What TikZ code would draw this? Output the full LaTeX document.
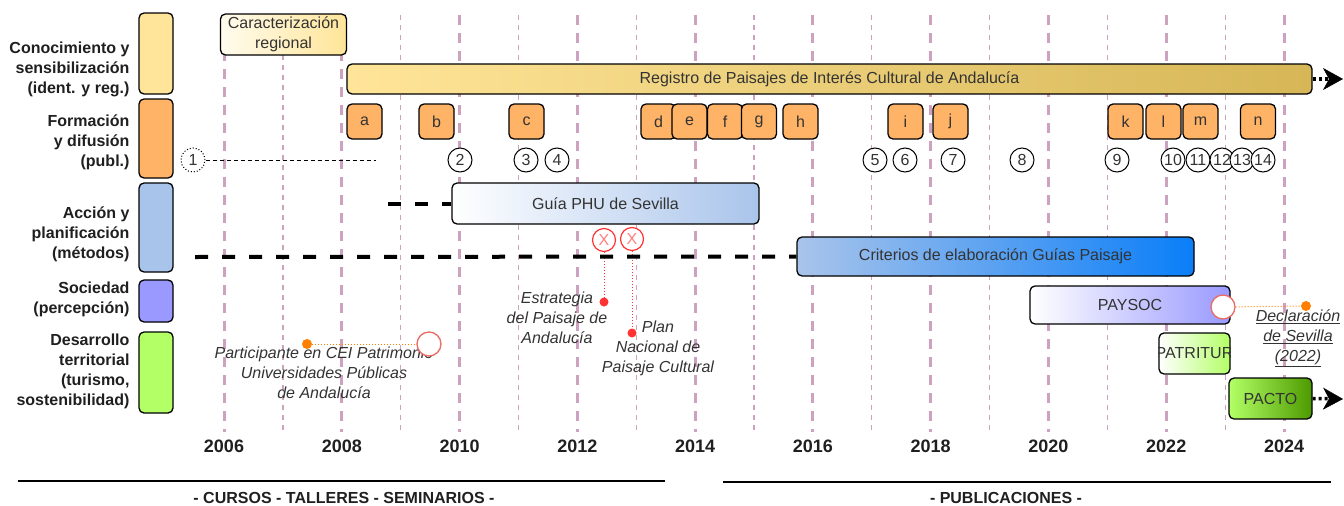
\documentclass[tikz,border=0pt]{standalone}
\usepackage{fontspec}
\setmainfont{Liberation Sans}
\usetikzlibrary{arrows.meta}
\definecolor{gridc}{HTML}{CDA2BE}
\definecolor{txt}{HTML}{333333}
\definecolor{ylw}{HTML}{FFE599}
\definecolor{ylwlight}{HTML}{FFFCEE}
\definecolor{gold}{HTML}{D6B656}
\definecolor{org}{HTML}{FFB366}
\definecolor{blu}{HTML}{A9C4EB}
\definecolor{blu2}{HTML}{0A7EF8}
\definecolor{pur}{HTML}{9999FF}
\definecolor{grn}{HTML}{B3FF66}
\definecolor{grn2}{HTML}{4D9900}
\definecolor{redc}{HTML}{FF3333}
\definecolor{redx}{HTML}{FF7F7F}
\definecolor{salmon}{HTML}{EA6B66}
\definecolor{orng}{HTML}{FF8000}
\tikzset{
 thickgrid/.style={gridc, line width=3pt, dash pattern=on 10pt off 8pt},
 thingrid/.style={gridc, line width=1.3pt, dash pattern=on 5pt off 5pt},
 catbox/.style={draw=black, line width=1.3pt, rounded corners=5pt, minimum width=34pt, inner sep=0pt},
 catlabel/.style={anchor=east, align=right, font=\fontsize{16}{20}\selectfont\bfseries, text=black!88},
 bar/.style={draw=black, line width=1.3pt, rounded corners=5pt, inner sep=0pt, text=txt, font=\fontsize{16}{20}\selectfont, align=center},
 letterbox/.style={bar, fill=org, minimum width=35pt, minimum height=35pt},
 numc/.style={circle, draw=black, line width=1pt, fill=white, minimum size=24pt, inner sep=0pt, text=txt, font=\fontsize{16}{16}\selectfont},
 note/.style={align=center, font=\fontsize{16}{20}\selectfont\itshape, text=txt},
 xcirc/.style={circle, draw=redc, line width=1.2pt, fill=white, minimum size=23pt, inner sep=0pt, text=redx, font=\fontsize{16}{16}\selectfont},
 ocirc/.style={circle, draw=salmon, line width=1.3pt, fill=white, minimum size=24pt, inner sep=0pt},
 rdot/.style={circle, fill=redc, minimum size=9pt, inner sep=0pt},
 odot/.style={circle, fill=orng, minimum size=10pt, inner sep=0pt},
 bigdash/.style={line width=4pt, dash pattern=on 13pt off 14pt},
 dotarrow/.style={line width=3.5pt, dash pattern=on 3pt off 3pt, -{Stealth[length=20pt, width=22pt, inset=6pt, line width=0.5pt]}},
 yearlbl/.style={font=\fontsize{18}{20}\selectfont\bfseries, text=black!88},
 seclbl/.style={font=\fontsize{16}{20}\selectfont\bfseries, text=black!88},
}
\begin{document}
\begin{tikzpicture}[x=1pt,y=-1pt]
\useasboundingbox (0,0) rectangle (1344,506);
% grid
\foreach \k in {0,...,9} \draw[thickgrid] ({224+117.78*\k},15) -- ({224+117.78*\k},432);
\foreach \k in {0,...,8} \draw[thingrid] ({282.9+117.78*\k},15) -- ({282.9+117.78*\k},432);
% category boxes
\node[catbox, fill=ylw, minimum height=81pt] (c1) at (156,53.5) {};
\node[catbox, fill=org, minimum height=79pt] (c2) at (156,138.5) {};
\node[catbox, fill=blu, minimum height=89pt] (c3) at (156,227.5) {};
\node[catbox, fill=pur, minimum height=42pt] (c4) at (156,301) {};
\node[catbox, fill=grn, minimum height=81pt] (c5) at (156,372.5) {};
\node[catlabel] (l1) at (133,69) {Conocimiento y\\sensibilización\\(ident. y reg.)};
\node[catlabel] (l2) at (133,142) {Formación\\y difusión\\(publ.)};
\node[catlabel] (l3) at (133,234) {Acción y\\planificación\\(métodos)};
\node[catlabel] (l4) at (133,299) {Sociedad\\(percepción)};
\node[catlabel] (l5) at (133,371) {Desarrollo\\territorial\\(turismo,\\sostenibilidad)};
% top bars
\node[bar, left color=ylwlight, right color=ylw, minimum width=126pt, minimum height=41pt] (car) at (283.5,34.5) {Caracterización\\regional};
\node[bar, left color=ylw, right color=gold, minimum width=965pt, minimum height=30pt] (reg) at (829.5,79) {Registro de Paisajes de Interés Cultural de Andalucía};
\coordinate (regend) at (1343,79);
\draw[dotarrow] (reg.east) -- (regend);
% letter boxes
\node[letterbox] (a) at (364.5,121.5) {a};
\node[letterbox] (b) at (436.5,121.5) {b};
\node[letterbox] (c) at (526.5,121.5) {c};
\node[letterbox] (d) at (658.5,121.5) {d};
\node[letterbox] (e) at (689.5,121.5) {e};
\node[letterbox] (f) at (725,121.5) {f};
\node[letterbox] (g) at (759,121.5) {g};
\node[letterbox] (h) at (800.5,121.5) {h};
\node[letterbox] (i) at (905.5,121.5) {i};
\node[letterbox] (j) at (950.5,121.5) {j};
\node[letterbox] (k) at (1125.5,121.5) {k};
\node[letterbox] (l) at (1163.5,121.5) {l};
\node[letterbox] (m) at (1200.5,121.5) {m};
\node[letterbox] (n) at (1258,121.5) {n};
% numbered circles
\node[numc, dotted] (n1) at (193,160) {1};
\coordinate (n1end) at (376,160);
\draw[line width=1pt, dash pattern=on 4pt off 3pt] (n1) -- (n1end);
\node[numc] (n2) at (460,160) {2};
\node[numc] (n3) at (526,160) {3};
\node[numc] (n4) at (557,160) {4};
\node[numc] (n5) at (875,160) {5};
\node[numc] (n6) at (905,160) {6};
\node[numc] (n7) at (953,160) {7};
\node[numc] (n8) at (1022,160) {8};
\node[numc] (n9) at (1117,160) {9};
\node[numc] (n10) at (1173,160) {10};
\node[numc] (n11) at (1198,160) {11};
\node[numc] (n12) at (1222,160) {12};
\node[numc] (n13) at (1242,160) {13};
\node[numc] (n14) at (1263,160) {14};
% action bars
\node[bar, left color=white, right color=blu, minimum width=307pt, minimum height=41pt] (guia) at (605.5,203.5) {Guía PHU de Sevilla};
\node[bar, left color=blu, right color=blu2, minimum width=397pt, minimum height=39pt] (crit) at (995.5,256.5) {Criterios de elaboración Guías Paisaje};
% red markers
\node[xcirc] (x1) at (604,240) {X};
\node[xcirc] (x2) at (632,239) {X};
\node[rdot] (r1) at (604,302) {};
\node[rdot] (r2) at (632,333) {};
\draw[redc, line width=1pt, dotted] (x1) -- (r1);
\draw[redc, line width=1pt, dotted] (x2) -- (r2);
\coordinate (ds1) at (388,203.5);
\coordinate (ds2) at (195,257);
\draw[bigdash] (ds1) -- (guia.west);
\draw[bigdash] (ds2) -- (crit.west);
\node[note] (estr) at (557,318) {Estrategia\\del Paisaje de\\Andalucía};
\begin{scope}
\clip (590,300) rectangle (715.5,395);
\node[note] (plan) at (658,348) {Plan\\Nacional de\\Paisaje Cultural};
\end{scope}
% participante
\node[note] (part) at (324,373) {Participante en CEI Patrimonio\\Universidades Públicas\\de Andalucía};
\node[odot] (o1) at (307,344) {};
\node[ocirc] (oc1) at (429,344) {};
\draw[orng, line width=1pt, dotted] (o1) -- (oc1);
% sociedad
\node[bar, left color=white, right color=pur, minimum width=200pt, minimum height=38pt] (pay) at (1130,305) {PAYSOC};
\node[ocirc] (oc2) at (1223,307) {};
\node[odot] (o2) at (1306,306) {};
\draw[orng, line width=1pt, dotted] (oc2) -- (o2);
\node[note] (decl) at (1298,338) {\underline{Declaración}\\\underline{de Sevilla}\\\underline{(2022)}};
% desarrollo
\node[bar, left color=white, right color=grn, minimum width=71pt, minimum height=41pt] (patr) at (1194.5,353.5) {};
\begin{scope}
\clip (patr.south west) rectangle (patr.north east);
\node[text=txt, font=\fontsize{16}{20}\selectfont] (patrt) at (patr.center) {PATRITUR};
\end{scope}
\node[bar, left color=grn, right color=grn2, minimum width=83pt, minimum height=41pt] (pacto) at (1270.5,398.5) {PACTO};
\coordinate (pactoend) at (1343,399);
\draw[dotarrow] (pacto.east) -- (pactoend);
% years
\foreach \k in {0,...,9} \node[yearlbl] (y\k) at ({224+117.78*\k},446) {\the\numexpr2006+2*\k\relax};
% bottom sections
\coordinate (s1a) at (18,481); \coordinate (s1b) at (665,481);
\coordinate (s2a) at (723,482); \coordinate (s2b) at (1331,482);
\draw[line width=1.5pt] (s1a) -- (s1b);
\draw[line width=1.5pt] (s2a) -- (s2b);
\node[seclbl] (sec1) at (344,498) {- CURSOS - TALLERES - SEMINARIOS -};
\node[seclbl] (sec2) at (1006,498) {- PUBLICACIONES -};
\end{tikzpicture}
\end{document}
